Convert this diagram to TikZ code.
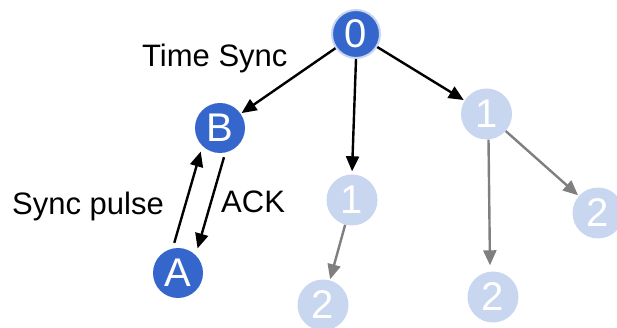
\documentclass[tikz,border=0pt]{standalone}
\usepackage{fontspec}
\setmainfont{Liberation Sans}
\usetikzlibrary{arrows.meta,calc}
\definecolor{nodeblue}{HTML}{3566CC}
\definecolor{nodepale}{HTML}{C8D6F0}
\definecolor{edgegray}{HTML}{7F7F7F}
\tikzset{
  active/.style={circle,fill=nodeblue,text=white,minimum size=50pt,inner sep=0pt,
    font=\fontsize{40}{40}\selectfont},
  pending/.style={circle,fill=nodepale,text=white,minimum size=51pt,inner sep=0pt,
    font=\fontsize{40}{40}\selectfont},
  lbl/.style={anchor=base west,inner sep=0pt,font=\fontsize{31}{31}\selectfont},
  arr/.style={line width=2.4pt,-{Triangle[length=15pt,width=13pt]},shorten >=1pt},
  grayarr/.style={arr,draw=edgegray,-{Triangle[length=15pt,width=13pt,fill=edgegray]}},
}
\begin{document}
\begin{tikzpicture}[x=1pt,y=-1pt]
\useasboundingbox (0,0) rectangle (617,328);
\clip (0,0) rectangle (617,328);

% nodes of the tree
\node[active,draw=nodepale,line width=2pt,minimum size=48pt] (n0) at (356,34) {0};
\node[active] (B) at (220,128) {B};
\node[active] (A) at (178,273) {A};
\node[pending] (m1) at (352,200) {1};
\node[pending] (r1) at (486.5,114) {1};
\node[pending] (m2) at (323,305) {2};
\node[pending] (r2a) at (493,297) {2};
\node[pending] (r2b) at (598,213) {2};

% labels
\node[lbl] (ts) at (142,67) {Time Sync};
\node[lbl] (sp) at (12,215) {Sync pulse};
\node[lbl] (ack) at (221,213) {ACK};

% synchronisation edges from the root
\draw[arr] (n0) -- (B);
\draw[arr] (n0.south) -- ($(m1.north)+(0,-2)$);
\draw[arr] (n0) -- (r1);

% pulse and acknowledgement between A and B
\coordinate (ab1) at ($(A)!28pt!(B)$);
\coordinate (ab2) at ($(B)!27pt!(A)$);
\draw[arr] ([shift={(-11.5,-3.3)}]ab1) -- ([shift={(-11.5,-3.3)}]ab2);
\draw[arr] ([shift={(11.5,3.3)}]ab2) -- ([shift={(11.5,3.3)}]ab1);

% edges still to be synchronised
\draw[grayarr] (m1) -- (m2);
\draw[grayarr] (r1.south) ++(2,0) coordinate (r1s) -- ($(r2a.north)+(-3,-5)$);
\draw[grayarr] (r1) -- (r2b);
\end{tikzpicture}
\end{document}
